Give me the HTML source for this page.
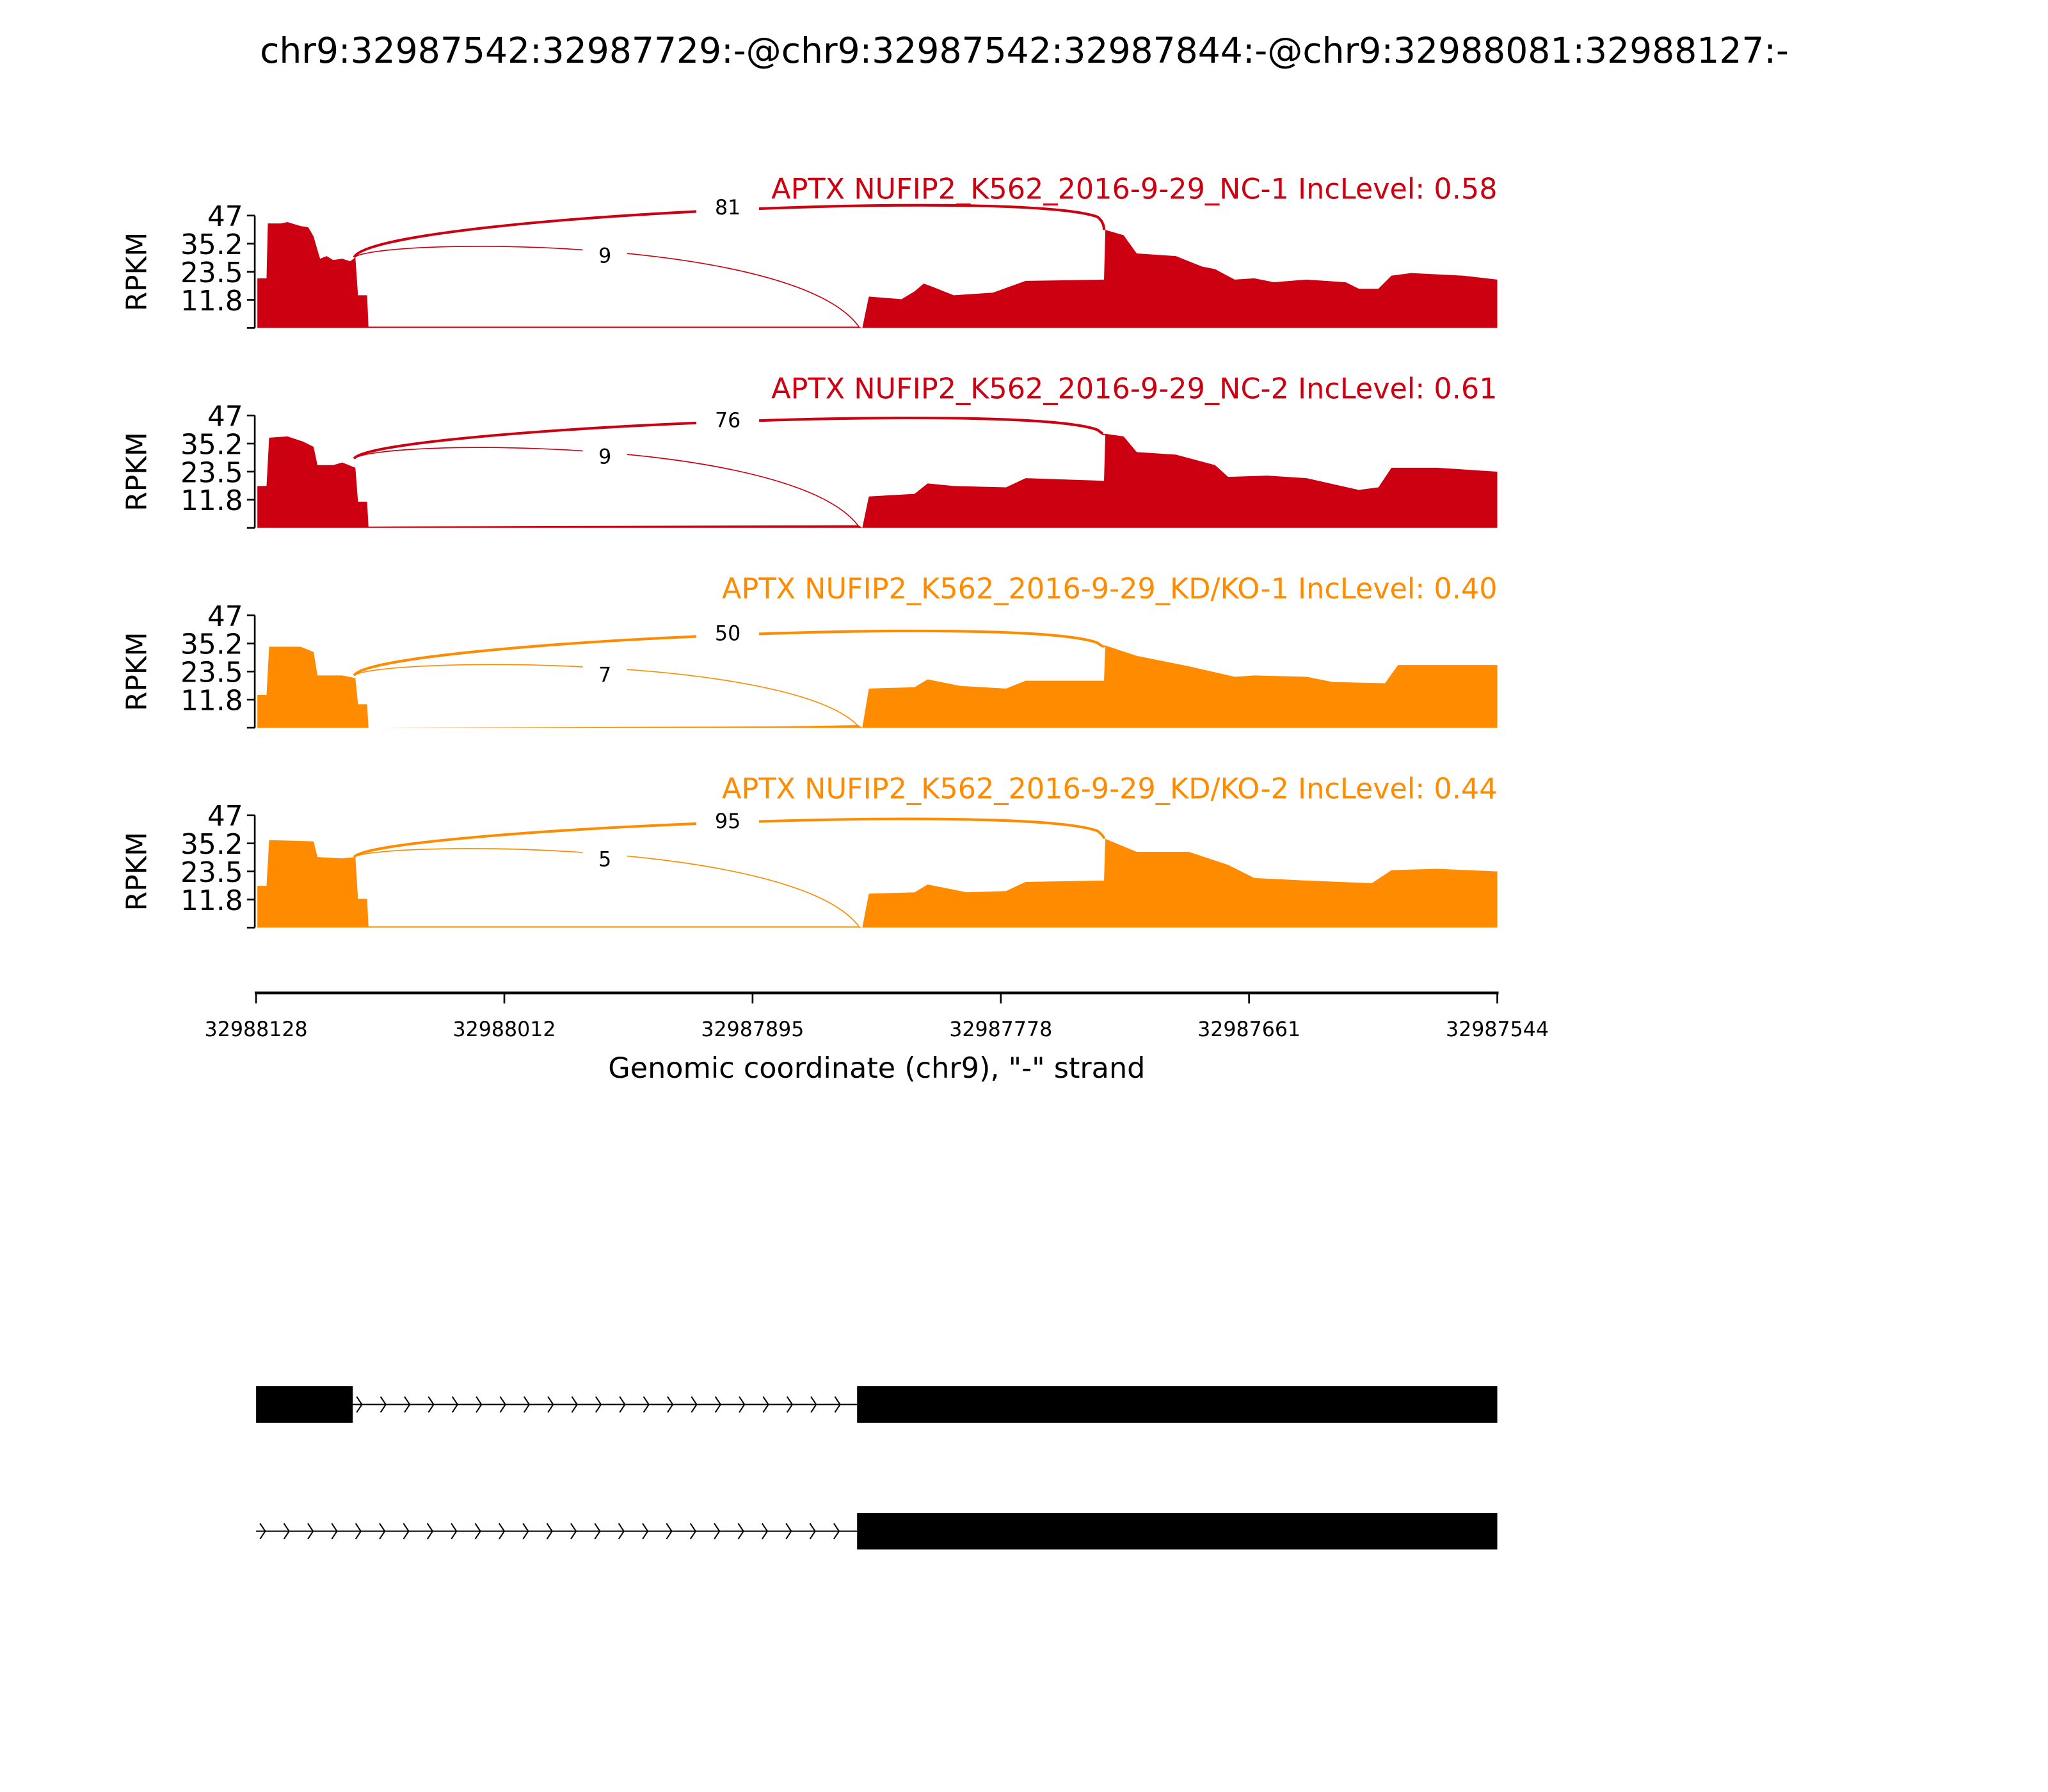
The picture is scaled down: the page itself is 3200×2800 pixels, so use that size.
<!DOCTYPE html>
<html><head><meta charset="utf-8"><style>html,body{margin:0;padding:0;background:#fff}svg{display:block}</style></head>
<body>
<svg id="s" width="3200" height="2800" viewBox="0 0 1567.5 1371.6" preserveAspectRatio="none" xmlns="http://www.w3.org/2000/svg" font-family="'DejaVu Sans','Liberation Sans',sans-serif">
<rect width="1568" height="1372" fill="#fff"/>
<text x="784" y="48" font-size="27" text-anchor="middle">chr9:32987542:32987729:-@chr9:32987542:32987844:-@chr9:32988081:32988127:-</text>
<g id="panels"></g>
<line x1="195" y1="760" x2="1147" y2="760" stroke="#000" stroke-width="2"/>
<g stroke="#000" stroke-width="1.3">
<line x1="196" y1="760" x2="196" y2="768"/><line x1="386" y1="760" x2="386" y2="768"/><line x1="576" y1="760" x2="576" y2="768"/><line x1="766" y1="760" x2="766" y2="768"/><line x1="956" y1="760" x2="956" y2="768"/><line x1="1146" y1="760" x2="1146" y2="768"/>
</g>
<g font-size="15.5" text-anchor="middle">
<text x="196" y="793">32988128</text><text x="386" y="793">32988012</text><text x="576" y="793">32987895</text><text x="766" y="793">32987778</text><text x="956" y="793">32987661</text><text x="1146" y="793">32987544</text>
</g>
<text x="671" y="825" font-size="21.8" text-anchor="middle">Genomic coordinate (chr9), "-" strand</text>
<rect x="196" y="1061" width="74" height="28" fill="#000"/>
<rect x="656" y="1061" width="490" height="28" fill="#000"/>
<line x1="270" y1="1075" x2="656" y2="1075" stroke="#000" stroke-width="1"/>
<rect x="656" y="1158" width="490" height="28" fill="#000"/>
<line x1="196" y1="1172" x2="656" y2="1172" stroke="#000" stroke-width="1"/>
<g id="arrows" stroke="#000" stroke-width="1" fill="none"></g>
</svg>
<script>
var P=[
 {b:251,c:"#cc0011",lab:"APTX NUFIP2_K562_2016-9-29_NC-1 IncLevel: 0.58",n1:"81",n2:"9",
  s:[[197,38],[204,38],[205,80],[215,80],[220,81],[230,78],[236,77],[240,70],[242,63],[245,53],[250,55],[255,52],[262,53],[268,51],[272,54],[274,25],[281,25],[282,1],[657,1],[660,0],[665,24],[690,22],[700,28],[707,34],[715,31],[730,25],[760,27],[785,36],[845,37],[846,75],[860,71],[870,57],[900,55],[920,47],[930,45],[945,37],[960,38],[975,35],[1000,37],[1030,35],[1040,30],[1055,30],[1065,40],[1080,42],[1120,40],[1146,37]],
  a:[[271,197],[845,176],158],l:[[271,197],[658,251],186]},
 {b:404,c:"#cc0011",lab:"APTX NUFIP2_K562_2016-9-29_NC-2 IncLevel: 0.61",n1:"76",n2:"9",
  s:[[197,32],[204,32],[206,69],[220,70],[232,66],[240,62],[243,48],[255,48],[262,50],[272,46],[274,20],[281,20],[282,1],[657,2],[660,0],[665,24],[700,26],[710,34],[730,32],[770,31],[785,38],[845,36],[846,72],[860,70],[870,58],[900,56],[930,48],[940,39],[970,40],[1000,38],[1040,29],[1055,31],[1065,46],[1100,46],[1146,43]],
  a:[[271,351],[845,332],321],l:[[271,351],[658,404],340]},
 {b:557,c:"#ff8c00",lab:"APTX NUFIP2_K562_2016-9-29_KD/KO-1 IncLevel: 0.40",n1:"50",n2:"7",
  s:[[197,25],[204,25],[206,62],[230,62],[240,58],[243,40],[262,40],[272,38],[274,18],[281,18],[282,0],[600,1],[657,2],[660,0],[665,30],[700,31],[710,37],[735,32],[770,30],[785,36],[845,36],[846,63],[870,55],[910,47],[945,39],[960,40],[1000,39],[1020,35],[1060,34],[1070,48],[1120,48],[1146,48]],
  a:[[271,517],[845,494],484],l:[[271,517],[658,557],507]},
 {b:710,c:"#ff8c00",lab:"APTX NUFIP2_K562_2016-9-29_KD/KO-2 IncLevel: 0.44",n1:"95",n2:"5",
  s:[[197,32],[204,32],[206,67],[240,66],[243,54],[262,53],[272,54],[274,22],[281,22],[282,1],[657,1],[660,0],[665,26],[700,27],[710,33],[740,27],[770,28],[785,35],[845,36],[846,68],[870,58],[910,58],[940,48],[960,38],[1000,36],[1050,34],[1065,44],[1100,45],[1146,43]],
  a:[[271,656],[845,642],628],l:[[271,656],[658,710],648]}
];
var g=document.getElementById("panels"),h="";
P.forEach(function(p){
 var b=p.b,t=b-86,d="M197,"+b;
 p.s.forEach(function(q){d+=" L"+q[0]+","+(b-q[1]);});
 d+=" L1146,"+b+" Z";
 h+='<path d="'+d+'" fill="'+p.c+'"/>';
 h+='<line x1="195" y1="'+t+'" x2="195" y2="'+b+'" stroke="#000" stroke-width="1.3"/>';
 var tk=[["47",t],["35.2",t+21.5],["23.5",t+43],["11.8",t+64.5],["",b]];
 tk.forEach(function(k){h+='<line x1="189" y1="'+k[1]+'" x2="195" y2="'+k[1]+'" stroke="#000" stroke-width="1.3"/>';
  if(k[0])h+='<text x="186" y="'+(k[1]+8)+'" font-size="21.5" text-anchor="end">'+k[0]+'</text>';});
 h+='<text transform="translate(112,'+(t+43)+') rotate(-90)" font-size="21.5" text-anchor="middle">RPKM</text>';
 var a=p.a,l=p.l;
 h+='<path d="M'+a[0][0]+','+a[0][1]+' C285,'+(a[2]+8)+' 780,'+(a[2]-14)+' 840,'+(a[2]+8)+' Q845,'+(a[2]+12)+' '+a[1][0]+','+a[1][1]+'" fill="none" stroke="'+p.c+'" stroke-width="2"/>';
 h+='<path d="M'+l[0][0]+','+l[0][1]+' C290,'+(l[2]-4)+' 610,'+(l[2]-6)+' '+l[1][0]+','+l[1][1]+'" fill="none" stroke="'+p.c+'" stroke-width="0.8"/>';
 h+='<rect x="533" y="'+(a[2]-11)+'" width="48" height="24" fill="#fff"/>';
 h+='<text x="557" y="'+(a[2]+6)+'" font-size="15.5" text-anchor="middle">'+p.n1+'</text>';
 h+='<rect x="446" y="'+(l[2]-2)+'" width="34" height="24" fill="#fff"/>';
 h+='<text x="463" y="'+(l[2]+15)+'" font-size="15.5" text-anchor="middle">'+p.n2+'</text>';
 h+='<text x="1146" y="'+(t-13)+'" font-size="21.8" text-anchor="end" fill="'+p.c+'">'+p.lab+'</text>';
});
g.innerHTML=h;
var ar="";
for(var x=277;x<656;x+=18.3)ar+='<polyline points="'+(x-4)+',1069 '+x+',1075 '+(x-4)+',1081"/>';
for(var x=203;x<656;x+=18.3)ar+='<polyline points="'+(x-4)+',1166 '+x+',1172 '+(x-4)+',1178"/>';
document.getElementById("arrows").innerHTML=ar;
</script>
</body></html>
